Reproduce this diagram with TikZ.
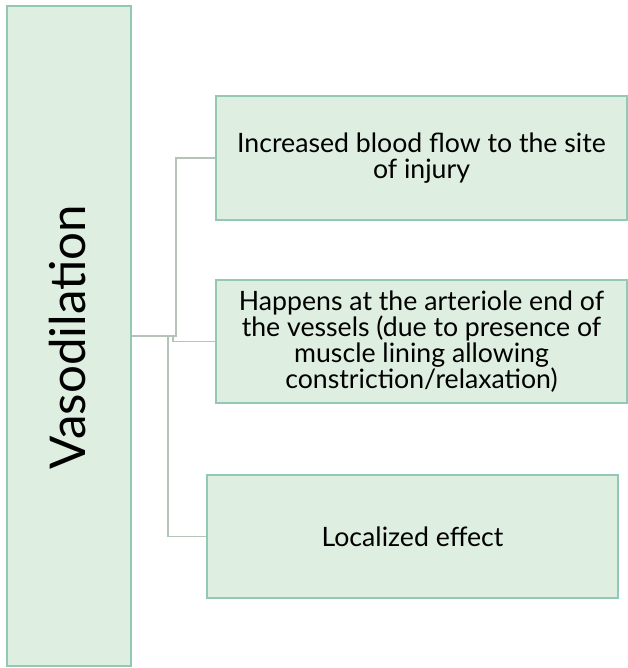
\documentclass[tikz,border=0pt]{standalone}
\usepackage{fontspec}
\setmainfont{Lato}
\definecolor{boxfill}{HTML}{DEEEE0}
\definecolor{boxline}{HTML}{93C9B4}
\definecolor{linkline}{HTML}{B4C4B8}
\tikzset{
  topic/.style={draw=boxline, fill=boxfill, line width=1.5pt, inner sep=0pt},
  leaf/.style={topic, minimum width=308.25pt, minimum height=92.5pt, align=center,
    font=\fontsize{20}{19.5}\selectfont},
  link/.style={draw=linkline, line width=1.3pt}
}
\begin{document}
\begin{tikzpicture}[x=0.75pt,y=-0.75pt]
\useasboundingbox (0,0) rectangle (628,668);
\node[topic, minimum width=93pt, minimum height=495pt] (V) at (69,336) {};
\node[rotate=90, font=\fontsize{37}{40}\selectfont, anchor=base, inner sep=0pt] (Vt) at (85,337) {Vasodilation};

\node[leaf] (B1) at (421.5,158) {Increased blood flow to the site\\of injury};
\node[leaf] (B2) at (421.5,341.5) {Happens at the arteriole end of\\the vessels (due to presence of\\muscle lining allowing\\constriction/relaxation)};
\node[leaf] (B3) at (412.5,536.5) {Localized effect};

\draw[link] (V.east) -- ++(44,0) |- (B1.west);
\draw[link] (V.east) -- ++(41,0) |- (B2.west);
\draw[link] (V.east) -- ++(36,0) |- (B3.west);
\end{tikzpicture}
\end{document}
